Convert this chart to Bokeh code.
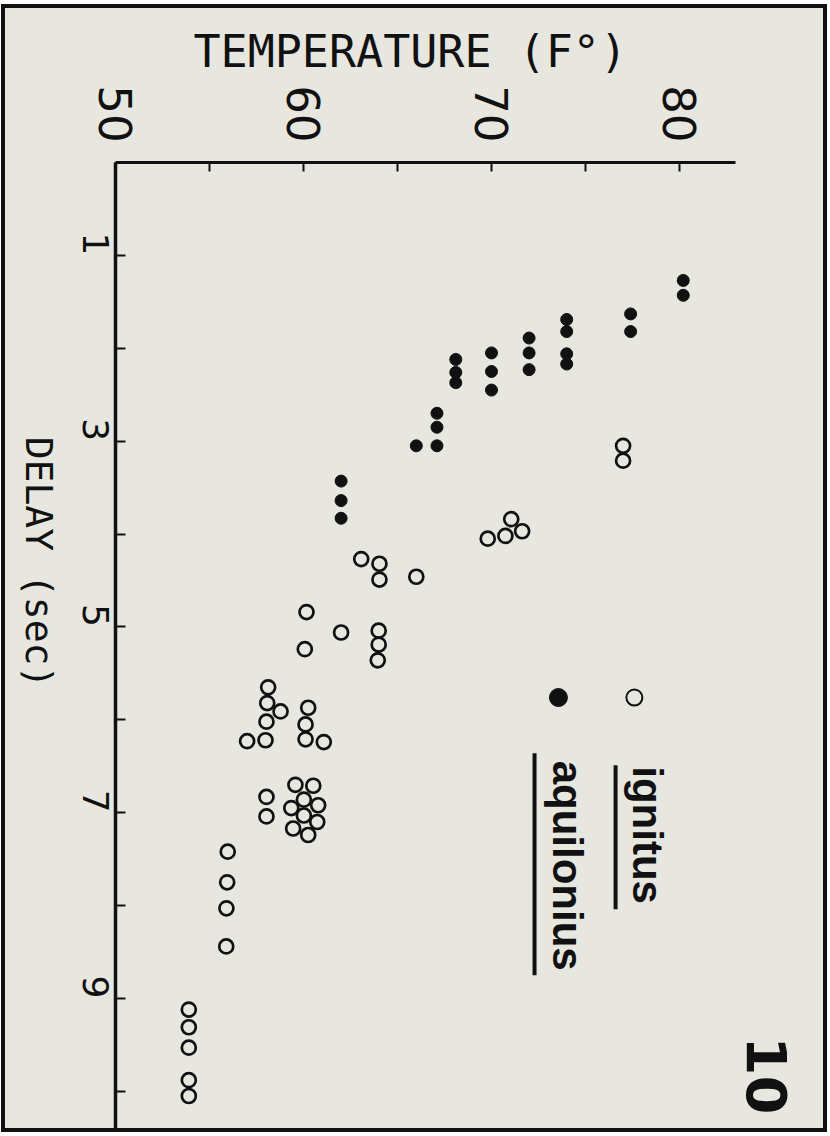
import math
from bokeh.plotting import figure
from bokeh.layouts import row
from bokeh.models import Range1d, FixedTicker
from bokeh.core.properties import value
from bokeh.embed import file_html
from bokeh.resources import INLINE

# ---------------- data ----------------
# aquilonius (filled circles)
aquilonius_temp = [80.2, 80.2, 77.4, 77.4, 74.0, 74.0, 74.0, 74.0,
                   72.0, 72.0, 72.0, 70.0, 70.0, 70.0, 68.1, 68.1, 68.1,
                   67.1, 67.1, 67.1, 66.0, 62.0, 62.0, 62.0]
aquilonius_delay = [1.27, 1.43, 1.63, 1.82, 1.69, 1.82, 2.06, 2.17,
                    1.89, 2.05, 2.23, 2.05, 2.25, 2.45, 2.12, 2.26, 2.37,
                    2.70, 2.85, 3.05, 3.05, 3.43, 3.64, 3.83]

# ignitus (open circles)
ignitus_temp = [77.0, 77.0,
                71.05, 69.8, 70.74, 71.63,
                63.07, 64.04, 64.04, 66.0,
                60.16, 62.0, 60.07, 64.0, 64.0, 63.95,
                58.12, 58.07, 58.78, 58.03, 57.98, 57.0,
                60.25, 60.11, 60.11, 61.08,
                58.03, 58.03,
                59.57, 60.52, 60.02, 60.78, 59.35, 60.02, 60.73, 59.45, 60.25,
                55.97, 55.94, 55.9, 55.89,
                53.9, 53.9, 53.9, 53.9, 53.9]
ignitus_delay = [3.05, 3.21,
                 3.84, 4.05, 4.02, 3.97,
                 4.27, 4.32, 4.49, 4.46,
                 4.84, 5.06, 5.24, 5.04, 5.19, 5.36,
                 5.65, 5.82, 5.91, 6.02, 6.22, 6.23,
                 5.87, 6.05, 6.21, 6.24,
                 6.83, 7.04,
                 6.70, 6.71, 6.86, 6.92, 6.95, 7.03, 7.10, 7.17, 7.24,
                 7.42, 7.75, 8.03, 8.44,
                 9.12, 9.31, 9.53, 9.88, 10.05]

temp_ticks = [50, 60, 70, 80]
temp_minor_ticks = [55, 65, 75]
delay_ticks = [1, 2, 3, 4, 5, 6, 7, 8, 9, 10]
delay_labels = {d: (str(d) if d % 2 == 1 else "") for d in delay_ticks}

series_names = ["ignitus", "aquilonius"]
x_title = "TEMPERATURE (F°)"
y_title = "DELAY (sec)"
panel_tag = "10"

# ---------------- styling / layout ----------------
BG = "#e7e7e0"
INK = "#111111"
ROT = -math.pi / 2
LETTERING = "DejaVu Sans Mono"
DIGITS = "DejaVu Sans"

TOP = 154        # space above the plotting frame
HEIGHT = 1120

# narrow strip on the left that carries the rotated delay title
# (its frame lines up with the main frame; y counts pixel rows below the frame top)
strip_w = 55
strip = figure(width=strip_w, height=HEIGHT,
               x_range=Range1d(0, strip_w), y_range=Range1d(966, 0),
               x_axis_type=None, y_axis_type=None,
               output_backend="svg", toolbar_location=None,
               min_border_left=0, min_border_right=0,
               min_border_top=TOP, min_border_bottom=0)
strip.background_fill_color = BG
strip.border_fill_color = BG
strip.outline_line_color = None
strip.grid.visible = False
strip.text(x=[33], y=[400], text=[y_title], angle=ROT,
           text_align="center", text_baseline="middle",
           text_font=value(LETTERING), text_font_size="38px", text_color=INK)

# main chart
p = figure(width=763, height=HEIGHT,
           x_range=Range1d(50, 87.66), y_range=Range1d(10.40, 0),
           x_axis_location="above", y_axis_location="left",
           output_backend="svg", toolbar_location=None,
           min_border_left=55, min_border_top=TOP,
           min_border_right=0, min_border_bottom=0)
p.background_fill_color = BG
p.border_fill_color = BG
p.outline_line_color = None
p.grid.visible = False

p.title.text = x_title
p.title.align = "left"
p.title.offset = 78
p.title.text_font = LETTERING
p.title.text_font_size = "45px"
p.title.text_font_style = "normal"
p.title.text_color = INK
p.title.standoff = 10

xa = p.xaxis[0]
xa.ticker = FixedTicker(ticks=temp_ticks, minor_ticks=temp_minor_ticks)
xa.bounds = (50, 83)
xa.axis_line_width = 3
xa.axis_line_color = INK
xa.major_tick_in = 9
xa.major_tick_out = 0
xa.minor_tick_in = 9
xa.minor_tick_out = 0
xa.major_tick_line_width = 2
xa.minor_tick_line_width = 2
xa.major_tick_line_color = INK
xa.minor_tick_line_color = INK
xa.major_label_orientation = ROT
xa.major_label_standoff = 20
xa.major_label_text_font = DIGITS
xa.major_label_text_font_size = "45px"
xa.major_label_text_color = INK

ya = p.yaxis[0]
ya.ticker = FixedTicker(ticks=delay_ticks)
ya.major_label_overrides = delay_labels
ya.axis_line_width = 3.5
ya.axis_line_color = INK
ya.major_tick_in = 10
ya.major_tick_out = 0
ya.major_tick_line_width = 2
ya.major_tick_line_color = INK
ya.minor_tick_line_color = None
ya.major_label_orientation = ROT
ya.major_label_standoff = 20
ya.major_label_text_font = DIGITS
ya.major_label_text_font_size = "36px"
ya.major_label_text_color = INK

# data marks
p.scatter(ignitus_temp, ignitus_delay, marker="circle", size=14,
          fill_color=None, line_color=INK, line_width=2.7)
p.scatter(aquilonius_temp, aquilonius_delay, marker="circle", size=12,
          fill_color=INK, line_color=INK, line_width=1)

# key (legend) drawn by hand, rotated like the figure
key_y = 5.76
p.scatter([77.6], [key_y], marker="circle", size=16, fill_color=None,
          line_color=INK, line_width=2)
p.scatter([73.56], [key_y], marker="circle", size=18, fill_color=INK,
          line_color=INK)
p.text(x=[78.3, 74.05], y=[6.50, 6.44], text=series_names, angle=ROT,
       text_align="left", text_baseline="alphabetic",
       text_font=value("Liberation Sans"), text_font_style="bold",
       text_font_size="42px", text_color=INK)
p.segment(x0=[76.6, 72.29], y0=[6.49, 6.36], x1=[76.6, 72.29], y1=[8.04, 8.75],
          line_color=INK, line_width=4)

# panel number
p.text(x=[84.63], y=[9.83], text=[panel_tag], angle=ROT,
       text_align="center", text_baseline="middle",
       text_font=value("DejaVu Sans"), text_font_style="bold",
       text_font_size="56px", text_color=INK)

page = row(strip, p, styles={"border": "4px solid #111111",
                             "margin": "4px 0 0 1px",
                             "background-color": BG})

open("out.html", "w").write(file_html(page, INLINE))
